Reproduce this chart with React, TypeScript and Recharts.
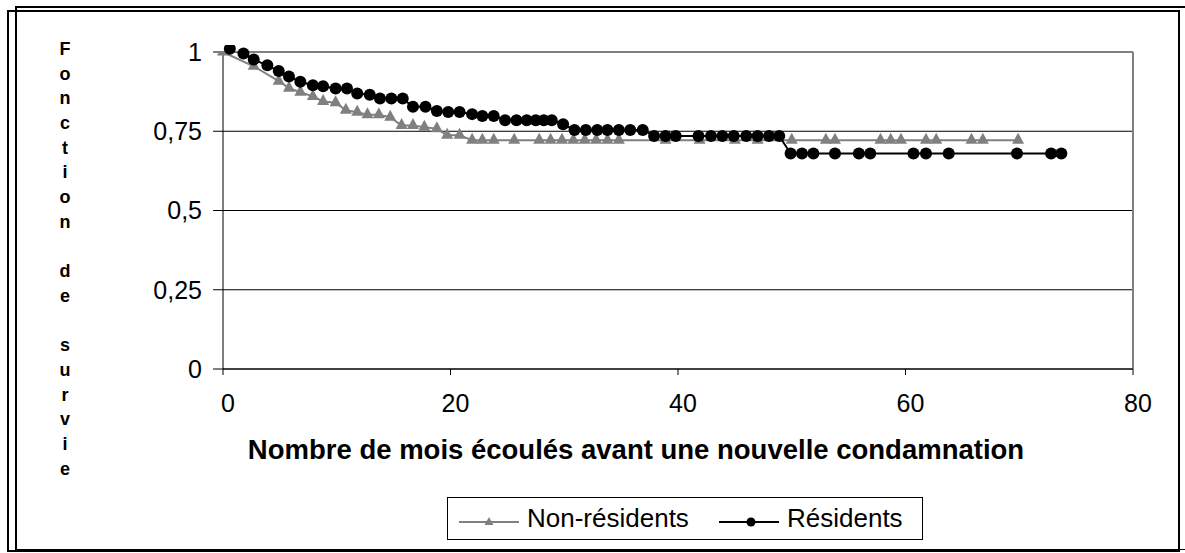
import React from 'react';
import { LineChart, Line, XAxis, YAxis, CartesianGrid, ReferenceLine } from 'recharts';

const nonResMonths = [0, 2.7, 4.9, 5.8, 6.8, 7.9, 8.8, 9.9, 10.8, 11.8, 12.7, 13.7, 14.7, 15.7, 16.7, 17.7, 18.8, 19.7, 20.8,
  21.9, 22.8, 23.8, 25.6, 27.8, 28.8, 29.8, 30.8, 31.8, 32.8, 33.8, 34.8, 38.9, 41.9, 45.0, 47.0, 50.0, 53.0, 53.8, 57.8,
  58.7, 59.6, 61.8, 62.7, 65.8, 66.8, 69.9];
const nonResSurvival = [1.0, 0.955, 0.908, 0.886, 0.873, 0.86, 0.844, 0.84, 0.816, 0.81, 0.802, 0.802, 0.794, 0.768, 0.768,
  0.763, 0.758, 0.737, 0.737,
  0.722, 0.722, 0.722, 0.722, 0.722, 0.722, 0.722, 0.722, 0.722, 0.722, 0.722, 0.722, 0.722, 0.722, 0.722, 0.722, 0.722,
  0.722, 0.722, 0.722, 0.722, 0.722, 0.722, 0.722, 0.722, 0.722, 0.722];

const resMonths = [0.6, 1.8, 2.7, 3.9, 4.9, 5.8, 6.8, 7.9, 8.8, 9.9, 10.9, 11.8, 12.9, 13.8, 14.8, 15.8, 16.7, 17.8, 18.8,
  19.8, 20.8, 21.9, 22.8, 23.8, 24.8, 25.8, 26.7, 27.5, 28.2, 28.9, 29.9, 30.9, 31.9, 32.9, 33.8, 34.8, 35.8, 36.9, 37.9,
  38.9, 39.8, 41.8, 42.9, 43.9, 44.9, 46.0, 47.0, 48.0, 48.9, 49.9, 50.9, 51.9, 53.8, 55.9, 56.9, 60.7, 61.8, 63.8, 69.8,
  72.8, 73.7];
const resSurvival = [1.01, 0.995, 0.976, 0.958, 0.94, 0.923, 0.906, 0.895, 0.892, 0.885, 0.885, 0.869, 0.865, 0.853, 0.853,
  0.853, 0.827, 0.827, 0.814, 0.811, 0.811, 0.804, 0.798, 0.798, 0.785, 0.785, 0.785, 0.785, 0.785, 0.785, 0.772,
  0.754, 0.754, 0.754, 0.754, 0.754, 0.754, 0.754,
  0.735, 0.735, 0.735, 0.735, 0.735, 0.735, 0.735, 0.735, 0.735, 0.735, 0.735,
  0.68, 0.68, 0.68, 0.68, 0.68, 0.68, 0.68, 0.68, 0.68, 0.68, 0.68, 0.68];

const xTicks = [0, 20, 40, 60, 80];
const yTicks = [0, 0.25, 0.5, 0.75, 1];
const yTitle = 'Fonction de survie';

const nonRes = nonResMonths.map((m, i) => ({ x: m, y: nonResSurvival[i] }));
const res = resMonths.map((m, i) => ({ x: m, y: resSurvival[i] }));

const FONT = '"Liberation Sans", Arial, sans-serif';
const GRAY = '#808080';

const Triangle = (props: any) => {
  const { cx, cy } = props;
  if (cx == null || cy == null) return null;
  return <polygon key={`t-${props.index}`} points={`${cx},${cy - 7.5} ${cx - 6},${cy + 3.5} ${cx + 6},${cy + 3.5}`} fill={GRAY} />;
};

export default function App() {
  return (
    <div style={{ position: 'absolute', left: 0, top: 0, width: 1185, height: 553, background: '#fff', fontFamily: FONT, overflow: 'hidden' }}>
      <div style={{ position: 'absolute', left: 7, top: 10, width: 1169, height: 538, border: '2px solid #000' }} />
      <div style={{ position: 'absolute', left: 15, top: 6, width: 1200, height: 541, borderLeft: '2px solid #000', borderTop: '2px solid #000', borderBottom: '1px solid #000' }} />

      <div style={{ position: 'absolute', left: 0, top: 0 }}>
        <LineChart width={1185} height={553} margin={{ top: 52, right: 52, bottom: 154, left: 0 }}>
          <CartesianGrid vertical={false} stroke="#000" strokeWidth={1} />
          <XAxis
            type="number"
            dataKey="x"
            domain={[0, 80]}
            ticks={xTicks}
            height={30}
            stroke="#000"
            tickSize={6}
            tickMargin={19}
            tick={{ fill: '#000', fontSize: 25, fontFamily: FONT, dx: 5 }}
          />
          <YAxis
            type="number"
            dataKey="y"
            domain={[0, 1]}
            allowDataOverflow
            ticks={yTicks}
            width={223}
            stroke="#000"
            tickSize={10}
            tickMargin={11}
            tickFormatter={(v: number) => String(v).replace('.', ',')}
            tick={{ fill: '#000', fontSize: 25, fontFamily: FONT }}
          />
          <ReferenceLine y={1} stroke={GRAY} strokeWidth={2} />
          <ReferenceLine x={80} stroke={GRAY} strokeWidth={2} />
          <Line
            data={nonRes}
            dataKey="y"
            type="linear"
            stroke={GRAY}
            strokeWidth={2}
            dot={Triangle}
            activeDot={false}
            isAnimationActive={false}
          />
          <Line
            data={res}
            dataKey="y"
            type="linear"
            stroke="#000"
            strokeWidth={2}
            dot={{ r: 6, fill: '#000', stroke: 'none', clipDot: false } as any}
            activeDot={false}
            isAnimationActive={false}
          />
        </LineChart>
      </div>

      <div style={{ position: 'absolute', left: 55, top: 37, width: 20, textAlign: 'center', fontWeight: 'bold', fontSize: 18, lineHeight: '24.7px' }}>
        {yTitle.split('').map((c, i) => (
          <div key={i} style={{ height: 24.7 }}>{c === ' ' ? '\u00a0' : c}</div>
        ))}
      </div>

      <div style={{ position: 'absolute', left: 636, top: 434, transform: 'translateX(-50%)', whiteSpace: 'nowrap', fontWeight: 'bold', fontSize: 27.5 }}>
        Nombre de mois écoulés avant une nouvelle condamnation
      </div>

      <div style={{ position: 'absolute', left: 447, top: 497, width: 474, height: 41, border: '1px solid #000' }}>
        <svg width={474} height={41} style={{ position: 'absolute', left: 0, top: 0 }}>
          <line x1={11} y1={24} x2={71} y2={24} stroke={GRAY} strokeWidth={2} />
          <polygon points="41,19 36.5,27 45.5,27" fill={GRAY} />
          <line x1={271} y1={24} x2={331} y2={24} stroke="#000" strokeWidth={2} />
          <circle cx={303} cy={24} r={4.5} fill="#000" />
        </svg>
        <div style={{ position: 'absolute', left: 79, top: 5, fontSize: 26, whiteSpace: 'nowrap' }}>Non-résidents</div>
        <div style={{ position: 'absolute', left: 339, top: 5, fontSize: 26, whiteSpace: 'nowrap' }}>Résidents</div>
      </div>
    </div>
  );
}
